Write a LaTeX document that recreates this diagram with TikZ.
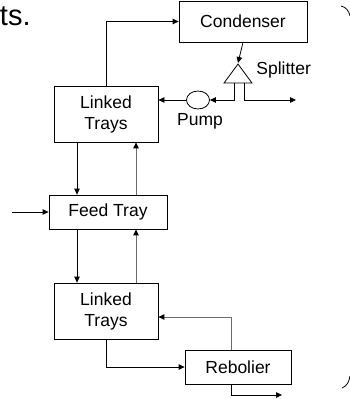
\documentclass[tikz,border=0pt]{standalone}
\usepackage{fontspec}
\setmainfont{Liberation Sans}
\usetikzlibrary{positioning,arrows.meta,shapes.geometric}

\begin{document}
\begin{tikzpicture}[x=1pt,y=-1pt,line width=0.8pt,
  >={Triangle[length=6pt,width=5.5pt,color=black]},
  font=\fontsize{17.5}{21}\selectfont,
  unit/.style={draw,rectangle,inner sep=0pt,align=center},
  back/.style={draw=gray!85!black,line width=1pt}]

\useasboundingbox (0,0) rectangle (350,399);

\node[anchor=base east,inner sep=0pt,font=\fontsize{29}{32}\selectfont] (title) at (31,25) {ts.};

\node[unit,minimum width=128pt,minimum height=41pt] (cond) at (243,21.5) {Condenser};
\node[unit,minimum width=104pt,minimum height=56pt] (lt1) at (106,114) {Linked\\Trays};
\node[unit,minimum width=118pt,minimum height=34pt] (feed) at (108,212) {Feed Tray};
\node[unit,minimum width=104pt,minimum height=56pt] (lt2) at (106,311) {Linked\\Trays};
\node[unit,minimum width=106pt,minimum height=34pt] (reb) at (238,367) {Rebolier};

\node[draw,isosceles triangle,isosceles triangle stretches,shape border rotate=90,
  minimum width=28pt,minimum height=19pt,inner sep=0pt,anchor=apex] (spl) at (238,63) {};
\node[anchor=west,inner sep=0pt] (spllab) at (256,70) {Splitter};
\node[draw,ellipse,minimum width=23pt,minimum height=18pt,inner sep=0pt] (pump) at (198,100) {};
\node[inner sep=0pt] (pumplab) at (200,121) {Pump};

\coordinate (dn) at (77,0);
\coordinate (up) at (136,0);
\coordinate (rcol) at (231,0);
\coordinate (fin) at (12,212);
\coordinate (dist) at (296,100);
\coordinate (bot) at (282,395);

\draw[->] (lt1.north) |- (cond.west);
\draw[->] (cond.south) -- (spl.apex);
\draw[->] ([xshift=-4pt]spl.lower side) |- (pump.east);
\draw[->] ([xshift=6pt]spl.lower side) |- (dist);
\draw[->] (pump.west) -- (pump.west -| lt1.east);

\draw[->] (dn |- lt1.south) -- (dn |- feed.north);
\draw[back,->] (up |- feed.north) -- (up |- lt1.south);
\draw[->] (fin) -- (feed.west);
\draw[->] (dn |- feed.south) -- (dn |- lt2.north);
\draw[back,->] (up |- lt2.north) -- (up |- feed.south);

\draw[->] (lt2.south) |- (reb.west);
\draw[back,->] (rcol |- reb.north) |- ([yshift=-6pt]lt2.east);
\draw[->] (rcol |- reb.south) |- (bot);

\draw (341,6) .. controls (346,7) and (349,11) .. (350,16);
\draw (342,388) .. controls (347,386) and (349,382) .. (350,376);

\end{tikzpicture}
\end{document}
